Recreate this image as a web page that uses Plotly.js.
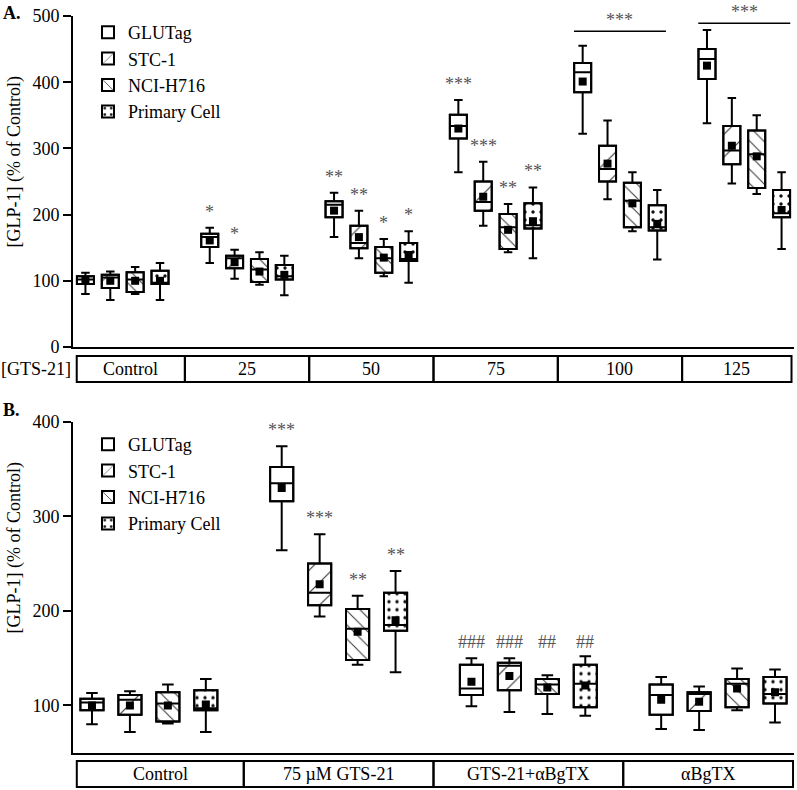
<!DOCTYPE html>
<html><head><meta charset="utf-8">
<script src="https://cdn.plot.ly/plotly-3.0.1.min.js"></script>
<style>body{margin:0;background:#fff}#chart{width:797px;height:790px}</style>
</head><body><div id="chart"></div>
<script>
// ---------- DATA ----------
const series = ['GLUTag', 'STC-1', 'NCI-H716', 'Primary Cell'];
const categoriesA = ['Control', '25', '50', '75', '100', '125'];
const categoriesB = ['Control', '75 µM GTS-21', 'GTS-21+αBgTX', 'αBgTX'];
const axisLabelA = '[GTS-21]';
const yTitle = '[GLP-1] (% of Control)';

// Panel A: rows = series, columns = categoriesA
const aUpper  = [[112,180,233,373,455,479],[114,147,206,280,342,376],[121,143,163,216,264,350],[127,138,175,241,237,264]];
const aQ3     = [[107,171,220,351,429,450],[109,138,183,250,304,334],[113,133,151,201,248,327],[115,124,157,217,214,237]];
const aMedian = [[102,166,215,334,415,435],[105,134,157,219,269,297],[102,117,134,181,221,291],[ 97,107,133,184,181,202]];
const aQ1     = [[ 95,151,196,315,385,405],[ 89,119,149,206,250,276],[ 83, 98,112,148,181,240],[ 95,102,130,179,176,196]];
const aLower  = [[ 80,127,166,264,322,338],[ 71,103,134,183,223,247],[ 80, 94,107,143,175,231],[ 71, 78, 97,134,132,148]];
const aMean   = [[100,161,206,330,401,425],[100,128,166,227,277,304],[100,114,135,177,217,288],[100,109,139,190,186,207]];
const aSig    = [['','*','**','***','',''],['','*','**','***','',''],['','','*','**','',''],['','','*','**','','']];
const aGroupSig = ['','','','','***','***'];
const aGroupSigY = [null,null,null,null,477,489];

// Panel B: rows = series, columns = categoriesB
const bUpper  = [[113,374,150,130],[115,281,150,120],[122,216,132,139],[128,242,152,138]];
const bQ3     = [[107,352,143,122],[111,250,145,114],[114,202,128,128],[116,219,143,130]];
const bMedian = [[103,335,118,111],[106,219,142,112],[102,181,122,123],[ 97,185,123,112]];
const bQ1     = [[ 95,316,111, 90],[ 90,206,116, 94],[ 83,148,112, 98],[ 95,179, 98,102]];
const bLower  = [[ 80,264, 99, 75],[ 72,194, 93, 74],[ 81,143, 91, 95],[ 72,135, 89, 82]];
const bMean   = [[100,330,125,106],[100,228,131,104],[100,178,119,118],[101,190,121,114]];
const bSig    = [['','***','###',''],['','***','###',''],['','**','##',''],['','**','##','']];

// ---------- STYLE ----------
const FONT = 'Liberation Serif, Times New Roman, serif';
const offsets = [-0.3, -0.1, 0.1, 0.3];
const patterns = [
  {shape: ''},
  {shape: '/', size: 16, solidity: 0.07, fgcolor: '#333'},
  {shape: '\\', size: 10, solidity: 0.1, fgcolor: '#333'},
  {shape: '.', size: 8, solidity: 0.14, fgcolor: '#111'}
];

const traces = [];
const annotations = [];
const shapes = [];

function addPanel(cfg) {
  const {xa, ya, legend, upper, q3, med, q1, lower, mean, width} = cfg;
  series.forEach((name, s) => {
    const xs = upper[s].map((_, g) => g + offsets[s]);
    traces.push({
      type: 'bar', name: name, x: xs, base: q1[s], y: q3[s].map((v, g) => v - q1[s][g]),
      width: width, xaxis: xa, yaxis: ya, legend: legend,
      marker: {color: 'white', line: {color: 'black', width: 2}, pattern: patterns[s]},
      hoverinfo: 'skip'
    });
  });
  series.forEach((name, s) => {
    const xs = upper[s].map((_, g) => g + offsets[s]);
    traces.push({
      type: 'box', name: name, x: xs, q1: q1[s], median: med[s], q3: q3[s],
      lowerfence: lower[s], upperfence: upper[s], width: width, whiskerwidth: 0.5,
      fillcolor: 'rgba(0,0,0,0)', line: {color: 'black', width: 2}, boxpoints: false,
      xaxis: xa, yaxis: ya, showlegend: false, hoverinfo: 'skip'
    });
    traces.push({
      type: 'scatter', mode: 'markers', x: xs, y: mean[s], xaxis: xa, yaxis: ya,
      marker: {symbol: 'square', size: 8, color: 'black'}, showlegend: false, hoverinfo: 'skip'
    });
  });
}

addPanel({xa: 'x', ya: 'y', legend: 'legend', upper: aUpper, q3: aQ3, med: aMedian, q1: aQ1, lower: aLower, mean: aMean, width: 0.137});
addPanel({xa: 'x2', ya: 'y2', legend: 'legend2', upper: bUpper, q3: bQ3, med: bMedian, q1: bQ1, lower: bLower, mean: bMean, width: 0.122});

function sigAnn(sig, upper, xref, yref) {
  sig.forEach((row, s) => row.forEach((txt, g) => {
    if (!txt) return;
    let y = upper[s][g];
    const isHash = txt[0] === '#';
    if (isHash) y = Math.max(...upper.map(r => r[g]));
    annotations.push({xref: xref, yref: yref, x: g + offsets[s], y: y, xanchor: 'center', yanchor: 'bottom', text: txt,
      showarrow: false, font: {family: FONT, size: 18, color: '#555'}, yshift: isHash ? 2 : 4});
  }));
}
sigAnn(aSig, aUpper, 'x', 'y');
sigAnn(bSig, bUpper, 'x2', 'y2');
aGroupSig.forEach((txt, g) => {
  if (!txt) return;
  shapes.push({type: 'line', xref: 'x', yref: 'y', x0: g - 0.37, x1: g + 0.37, y0: aGroupSigY[g], y1: aGroupSigY[g], line: {color: 'black', width: 1.5}});
  annotations.push({xref: 'x', yref: 'y', x: g, y: aGroupSigY[g], xanchor: 'center', yanchor: 'bottom', text: txt, showarrow: false,
    font: {family: FONT, size: 18, color: '#555'}, yshift: -1});
});

function table(cats, xref, yTop, yBot, left, right) {
  cats.forEach((c, i) => {
    const x0 = Math.max(i - 0.5, left), x1 = Math.min(i + 0.5, right);
    shapes.push({type: 'rect', xref: xref, yref: 'paper', x0: x0, x1: x1, y0: yBot, y1: yTop, line: {color: 'black', width: 2}});
    annotations.push({xref: xref, yref: 'paper', x: (x0 + x1) / 2, y: (yTop + yBot) / 2, text: c, showarrow: false,
      font: {family: FONT, size: 18, color: 'black'}, xanchor: 'center', yanchor: 'middle'});
  });
}
table(categoriesA, 'x', 1 - 356/790, 1 - 382/790, -0.37, 5.38);
table(categoriesB, 'x2', 1 - 761/790, 1 - 787/790, -0.38, 3.395);
annotations.push({xref: 'paper', yref: 'paper', x: 0, xanchor: 'right', y: 1 - 369/790, yanchor: 'middle', text: axisLabelA,
  showarrow: false, font: {family: FONT, size: 18, color: 'black'}});

annotations.push({xref: 'paper', yref: 'paper', x: (1-73)/721, xanchor: 'left', y: 1 - 1/790, yanchor: 'top', text: '<b>A.</b>', showarrow: false, font: {family: FONT, size: 18, color: 'black'}});
annotations.push({xref: 'paper', yref: 'paper', x: (1-73)/721, xanchor: 'left', y: 1 - 398/790, yanchor: 'top', text: '<b>B.</b>', showarrow: false, font: {family: FONT, size: 18, color: 'black'}});
annotations.push({xref: 'paper', yref: 'paper', x: (13.5-73)/721, y: 1 - 162/790, xanchor: 'center', yanchor: 'middle', textangle: -90, text: yTitle, showarrow: false, font: {family: FONT, size: 18, color: 'black'}});
annotations.push({xref: 'paper', yref: 'paper', x: (13.5-73)/721, y: 1 - 548/790, xanchor: 'center', yanchor: 'middle', textangle: -90, text: yTitle, showarrow: false, font: {family: FONT, size: 18, color: 'black'}});

const yAxisBase = {showline: true, linewidth: 2, linecolor: 'black', ticks: 'outside', ticklen: 8, tickwidth: 2, tickcolor: 'black',
  tickfont: {family: FONT, size: 18, color: 'black'}, showgrid: false, zeroline: false, dtick: 100, tick0: 0};
const xAxisBase = {showline: true, linewidth: 2, linecolor: 'black', ticks: '', showticklabels: false, showgrid: false, zeroline: false, domain: [0, 1]};

const legendBase = {font: {family: FONT, size: 18, color: 'black'}, bgcolor: 'rgba(0,0,0,0)', borderwidth: 0, xanchor: 'left', yanchor: 'top', traceorder: 'normal'};

const layout = {
  width: 797, height: 790, margin: {l: 73, r: 3, t: 0, b: 0},
  paper_bgcolor: 'white', plot_bgcolor: 'white',
  barmode: 'overlay', boxmode: 'overlay', showlegend: true,
  xaxis: Object.assign({}, xAxisBase, {anchor: 'y', range: [-0.4, 5.4]}),
  yaxis: Object.assign({}, yAxisBase, {anchor: 'x', domain: [1 - 347/790, 1 - 16/790], range: [0, 500]}),
  xaxis2: Object.assign({}, xAxisBase, {anchor: 'y2', range: [-0.4, 3.4]}),
  yaxis2: Object.assign({}, yAxisBase, {anchor: 'x2', domain: [1 - 752.7/790, 1 - 421.7/790], range: [50, 400]}),
  legend: Object.assign({}, legendBase, {x: (88-73)/721, y: 1 - 14/790}),
  legend2: Object.assign({}, legendBase, {x: (88-73)/721, y: 1 - 426/790}),
  annotations: annotations, shapes: shapes
};

Plotly.newPlot('chart', traces, layout, {staticPlot: true, displayModeBar: false});
</script></body></html>
